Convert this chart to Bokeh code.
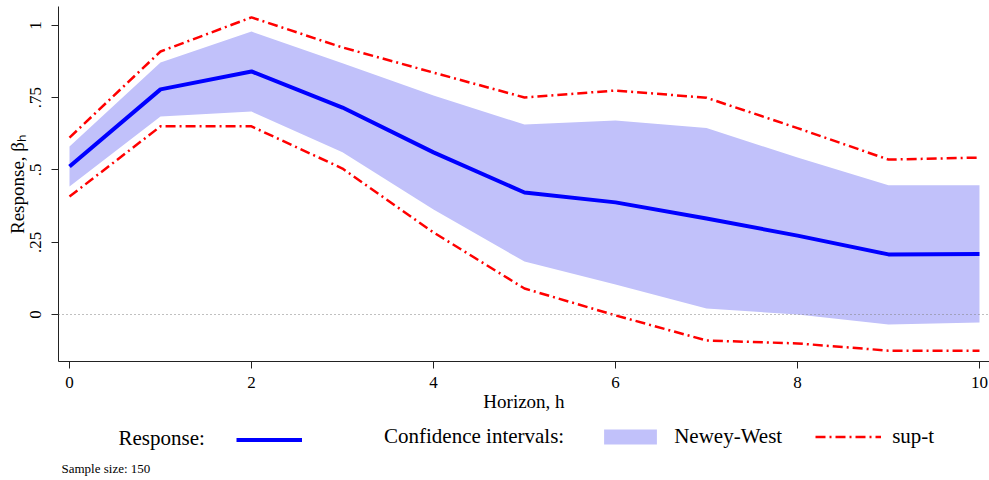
from bokeh.plotting import figure
from bokeh.models import Range1d, FixedTicker, Span, Legend, LegendItem, Label
from bokeh.layouts import column
from bokeh.embed import file_html
from bokeh.resources import INLINE

# ---- data ----
horizon = [0, 1, 2, 3, 4, 5, 6, 7, 8, 9, 10]
response = [0.512, 0.779, 0.841, 0.716, 0.561, 0.422, 0.388, 0.332, 0.273, 0.208, 0.209]
nw_lower = [0.443, 0.685, 0.702, 0.561, 0.363, 0.183, 0.104, 0.021, 0.000, -0.035, -0.028]
nw_upper = [0.581, 0.872, 0.979, 0.869, 0.758, 0.657, 0.671, 0.645, 0.543, 0.447, 0.447]
supt_lower = [0.408, 0.651, 0.651, 0.505, 0.284, 0.090, -0.003, -0.090, -0.100, -0.125, -0.125]
supt_upper = [0.612, 0.910, 1.028, 0.924, 0.837, 0.751, 0.775, 0.750, 0.645, 0.536, 0.543]

x_ticks = [0, 2, 4, 6, 8, 10]
y_ticks = [0, 0.25, 0.5, 0.75, 1]
y_tick_labels = ["0", ".25", ".5", ".75", "1"]

FONT = "Liberation Serif"
BLUE = "#0000FF"
RED = "#FF0000"
NW_COLOR = "#C1C1FA"
DASHDOT = "10 4 2 4"

W = 989
LEFT = 58
NAN = float("nan")

# ---- main plot ----
p = figure(width=W, height=418,
           x_range=Range1d(-0.1209, 10.11), y_range=Range1d(-0.1626, 1.0657),
           output_backend="svg", toolbar_location=None,
           min_border_left=LEFT, min_border_right=0, min_border_top=6, min_border_bottom=57)
p.outline_line_color = None
p.grid.visible = False

p.varea(x=horizon, y1=nw_lower, y2=nw_upper, fill_color=NW_COLOR, fill_alpha=1.0)
p.add_layout(Span(location=0, dimension="width", line_color="#808080",
                  line_dash="1 3", line_width=1))
p.line(horizon, supt_upper, line_color=RED, line_width=2.5, line_dash=DASHDOT)
p.line(horizon, supt_lower, line_color=RED, line_width=2.5, line_dash=DASHDOT)
p.line(horizon, response, line_color=BLUE, line_width=4)

for ax in (p.xaxis[0], p.yaxis[0]):
    ax.axis_line_color = "#222222"
    ax.axis_line_width = 1
    ax.major_tick_line_color = "#222222"
    ax.major_tick_out = 7
    ax.major_tick_in = 0
    ax.minor_tick_out = 0
    ax.minor_tick_in = 0
    ax.major_label_text_font = FONT
    ax.major_label_text_font_size = "17px"
    ax.major_label_text_color = "black"
    ax.axis_label_text_font = FONT
    ax.axis_label_text_font_size = "19px"
    ax.axis_label_text_font_style = "normal"
    ax.axis_label_text_color = "black"

p.xaxis.ticker = FixedTicker(ticks=x_ticks)
p.xaxis.axis_label = "Horizon, h"
p.xaxis.major_label_standoff = 8
p.xaxis.axis_label_standoff = 0

p.yaxis.ticker = FixedTicker(ticks=y_ticks)
p.yaxis.major_label_overrides = {t: l for t, l in zip(y_ticks, y_tick_labels)}
p.yaxis.major_label_orientation = "vertical"
p.yaxis.axis_label = "Response, \u03b2\u2095"
p.yaxis.major_label_standoff = 10
p.yaxis.axis_label_standoff = 0

# ---- legend strip (frame aligned with the main plot's frame) ----
H2 = 62
q = figure(width=W, height=H2, x_range=Range1d(0, W - LEFT), y_range=Range1d(0, H2),
           x_axis_type=None, y_axis_type=None,
           output_backend="svg", toolbar_location=None,
           min_border_left=LEFT, min_border_right=0, min_border_top=0, min_border_bottom=0)
q.outline_line_color = None
q.grid.visible = False

# legend proxies (no visible marks)
inv = q.line(x=[NAN], y=[NAN], line_alpha=0)
resp_icon = q.line(x=[NAN], y=[NAN], line_color=BLUE, line_width=4)
nw_icon = q.varea(x=[NAN], y1=[NAN], y2=[NAN], fill_color=NW_COLOR)
supt_icon = q.line(x=[NAN], y=[NAN], line_color=RED, line_width=2.5, line_dash=DASHDOT)

common = dict(orientation="horizontal", glyph_width=66, glyph_height=19,
              label_standoff=11, padding=0, margin=0,
              border_line_alpha=0, background_fill_alpha=0,
              label_text_font=FONT, label_text_font_size="21px",
              label_text_color="black")

legA = Legend(items=[LegendItem(label="", renderers=[resp_icon])],
              location=(178, 31), spacing=31, **common)
legB = Legend(items=[LegendItem(label="Confidence intervals:", renderers=[inv]),
                     LegendItem(label="Newey-West", renderers=[nw_icon]),
                     LegendItem(label="sup-t", renderers=[supt_icon])],
              location=(249, 31), spacing=33, **common)
q.add_layout(legA)
q.add_layout(legB)

q.add_layout(Label(x=60, y=H2 - 19, text="Response:", text_font=FONT,
                   text_font_size="21px", text_baseline="middle", text_color="black"))
q.add_layout(Label(x=3, y=12, text="Sample size: 150", text_font=FONT,
                   text_font_size="13px", text_baseline="middle", text_color="black"))

layout = column(p, q, spacing=0)
open("out.html", "w").write(file_html(layout, INLINE))
